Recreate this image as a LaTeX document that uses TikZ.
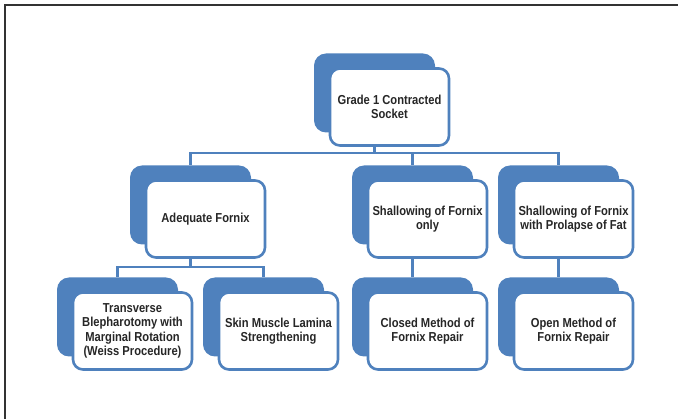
\documentclass[tikz,border=0pt]{standalone}
\usepackage{fontspec}
\setmainfont{Liberation Sans}[FakeStretch=0.86]
\usepackage{xcolor}
\usepackage{tikz}
\usetikzlibrary{positioning,calc}
\definecolor{boxblue}{HTML}{4F81BD}
\definecolor{txtgray}{HTML}{262626}

\begin{document}
\begin{tikzpicture}[x=1pt,y=-1pt,
    back/.style={fill=boxblue, rounded corners=12pt, minimum width=121pt, minimum height=79pt, inner sep=0pt},
    front/.style={draw=boxblue, fill=white, line width=2.6pt, rounded corners=10pt, minimum width=119pt, minimum height=77pt, inner sep=0pt,
        align=center, text=txtgray, font=\fontsize{13}{14.5}\selectfont\bfseries},
    conn/.style={draw=boxblue, line width=2.4pt}]
    \useasboundingbox (0,0) rectangle (678,419);
    \draw[line width=1.6pt, black!80] (5,419) -- (5,5) -- (678,5);

    \node[back] (topb) at (374.5,93) {};
    \node[front] (topw) at ([shift={(15,14)}]topb.center) {Grade 1 Contracted\\Socket};

    \node[back] (adeqb) at (190.5,205) {};
    \node[front] (adeqw) at ([shift={(15,14)}]adeqb.center) {Adequate Fornix};
    \node[back] (shallb) at (412.5,205) {};
    \node[front] (shallw) at ([shift={(15,14)}]shallb.center) {Shallowing of Fornix\\only};
    \node[back] (prolb) at (558.5,205) {};
    \node[front] (prolw) at ([shift={(15,14)}]prolb.center) {Shallowing of Fornix\\with Prolapse of Fat};

    \node[back] (weissb) at (117.5,317) {};
    \node[front] (weissw) at ([shift={(15,14)}]weissb.center) {Transverse\\Blepharotomy with\\Marginal Rotation\\(Weiss Procedure)};
    \node[back] (skinb) at (263.5,317) {};
    \node[front] (skinw) at ([shift={(15,14)}]skinb.center) {Skin Muscle Lamina\\Strengthening};
    \node[back] (closedb) at (412.5,317) {};
    \node[front] (closedw) at ([shift={(15,14)}]closedb.center) {Closed Method of\\Fornix Repair};
    \node[back] (openb) at (558.5,317) {};
    \node[front] (openw) at ([shift={(15,14)}]openb.center) {Open Method of\\Fornix Repair};

    \draw[conn] (topb.south |- topw.south) -- ++(0,6) coordinate (bus1) -| (adeqb.north);
    \draw[conn] (bus1) -| (shallb.north);
    \draw[conn] (bus1) -| (prolb.north);
    \draw[conn] (adeqb.south |- adeqw.south) -- ++(0,8) coordinate (bus2) -| (weissb.north);
    \draw[conn] (bus2) -| (skinb.north);
    \draw[conn] (shallb.south |- shallw.south) -- (closedb.north);
    \draw[conn] (prolb.south |- prolw.south) -- (openb.north);
\end{tikzpicture}
\end{document}
